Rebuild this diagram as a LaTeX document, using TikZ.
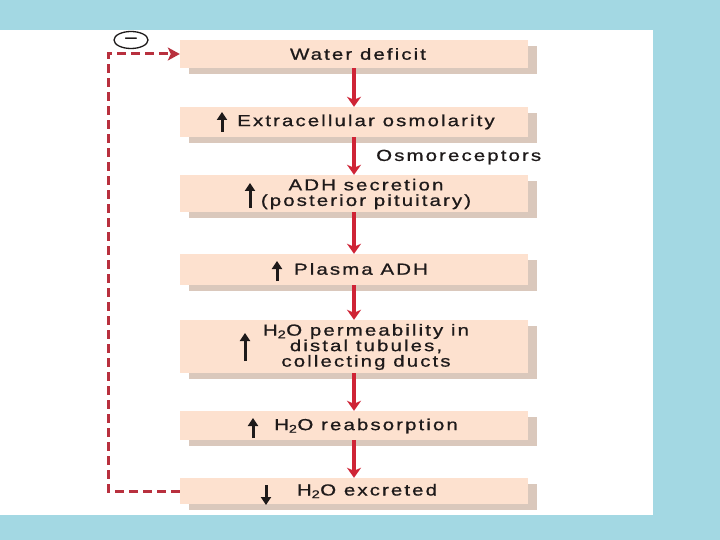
\documentclass[tikz,border=0pt]{standalone}
\usepackage{fontspec}
\setmainfont{Liberation Sans}[FakeStretch=1.28, LetterSpace=13, FakeBold=0.8]
\usetikzlibrary{arrows.meta,shadows,shapes.geometric}
\definecolor{bgblue}{HTML}{A3D8E3}
\definecolor{boxfill}{HTML}{FDE1CF}
\definecolor{shadowc}{HTML}{DAC8BC}
\definecolor{redc}{HTML}{CF2436}
\definecolor{dashc}{HTML}{B8303E}
\definecolor{inkc}{HTML}{1E1A1A}
\begin{document}
\begin{tikzpicture}[x=1pt,y=-1pt,
  every node/.style={font=\fontsize{16}{15.5}\selectfont, text=inkc, inner sep=0pt},
  stepbox/.style={fill=boxfill, minimum width=348pt, general shadow={fill=shadowc, shadow xshift=9pt, shadow yshift=-6pt}},
  flowarr/.style={draw=redc, line width=3.6pt, -{Stealth[length=10pt,width=14pt,inset=3pt]}},
  uparr/.style={draw=inkc, line width=3pt, -{Triangle[length=8pt,width=10pt]}},
  fbline/.style={draw=dashc, line width=3pt, dash pattern=on 9pt off 5pt, -{Stealth[length=12pt,width=13pt,inset=3pt]}}
]
\useasboundingbox (0,0) rectangle (720,540);
\fill[bgblue] (0,0) rectangle (720,540);
\fill[white] (0,30) rectangle (653,515);

% boxes
\node[stepbox, minimum height=28pt] (b1) at (354,54) {};
\node[stepbox, minimum height=30pt] (b2) at (354,122) {};
\node[stepbox, minimum height=37pt] (b3) at (354,193.5) {};
\node[stepbox, minimum height=31pt] (b4) at (354,269.5) {};
\node[stepbox, minimum height=53pt] (b5) at (354,346.5) {};
\node[stepbox, minimum height=29pt] (b6) at (354,425.5) {};
\node[stepbox, minimum height=26pt] (b7) at (354,491) {};

% texts
\node (t1) at (358,54) {Water deficit};
\node (t2) at (366,122) {Extracellular osmolarity};
\node[align=center] (t3) at (366,194) {ADH secretion\\(posterior pituitary)};
\node (t4) at (361,269) {Plasma ADH};
\node[align=center] (t5) at (366,347) {H\textsubscript{2}O permeability in\\distal tubules,\\collecting ducts};
\node (t6) at (366,426) {H\textsubscript{2}O reabsorption};
\node (t7) at (367,491) {H\textsubscript{2}O excreted};

% up / down arrows
\draw[uparr] (222,132) -- (222,112);
\draw[uparr] (250,208) -- (250,183);
\draw[uparr] (277,281) -- (277,261);
\draw[uparr] (245,361) -- (245,333);
\draw[uparr] (253,438) -- (253,418);
\draw[uparr] (266,485) -- (266,505);

% flow arrows
\draw[flowarr] (b1.south) -- (b2.north);
\draw[flowarr] (b2.south) -- (b3.north);
\draw[flowarr] (b3.south) -- (b4.north);
\draw[flowarr] (b4.south) -- (b5.north);
\draw[flowarr] (b5.south) -- (b6.north);
\draw[flowarr] (b6.south) -- (b7.north);
\node[anchor=west] (osm) at (376,157) {Osmoreceptors};

% feedback loop
\coordinate (fb) at (108,54);
\draw[fbline] (b7.west) -| (fb) -- (b1.west);
\node[ellipse, draw=inkc, line width=1.3pt, minimum width=34pt, minimum height=17pt, fill=white] (neg) at (131,40) {\textendash};
\end{tikzpicture}
\end{document}
